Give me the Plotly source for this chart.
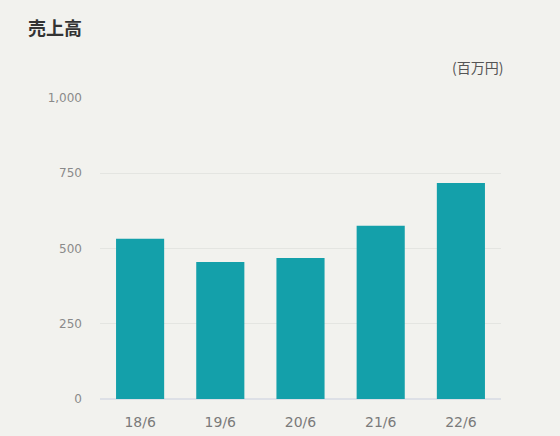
import plotly.graph_objects as go

# Net sales by fiscal year (millions of yen)
periods = ["18/6", "19/6", "20/6", "21/6", "22/6"]
sales = [532, 455, 468, 575, 717]
y_ticks = [0, 250, 500, 750, 1000]
y_tick_text = ["0", "250", "500", "750", "1,000"]

bg = "#f2f2ee"
bar_color = "#14a0aa"

# plot area in page pixels
W, H = 560, 436
L, R, T, B = 100, 59, 97, 37
pw, ph = W - L - R, H - T - B


def px_x(x):
    return (x - L) / pw


def px_y(y):
    return (H - B - y) / ph


fig = go.Figure(
    go.Bar(
        x=periods,
        y=sales,
        marker=dict(color=bar_color, line=dict(width=0)),
        hoverinfo="x+y",
    )
)

fig.update_layout(
    width=W,
    height=H,
    paper_bgcolor=bg,
    plot_bgcolor=bg,
    margin=dict(l=L, r=R, t=T, b=B, autoexpand=False),
    bargap=0.4,
    showlegend=False,
    xaxis=dict(
        automargin=False,
        showgrid=False,
        showline=False,
        zeroline=False,
        ticks="",
        tickfont=dict(size=14, color="#7a7a7a", family="DejaVu Sans"),
        ticklabelstandoff=13,
    ),
    yaxis=dict(
        automargin=False,
        range=[0, 1003],
        tickvals=y_ticks,
        ticktext=y_tick_text,
        showgrid=True,
        gridcolor="#e4e5e1",
        gridwidth=1,
        zeroline=True,
        zerolinecolor="#dde0e6",
        zerolinewidth=1.5,
        showline=False,
        ticks="",
        tickfont=dict(size=12, color="#8a8a8a", family="DejaVu Sans"),
        ticklabelstandoff=17,
    ),
    annotations=[
        dict(
            text="<b>売上高</b>",
            x=px_x(26), y=px_y(27),
            xref="paper", yref="paper",
            xanchor="left", yanchor="middle",
            showarrow=False,
            font=dict(size=18, color="#333333", family="Noto Sans CJK JP"),
        ),
        dict(
            text="(百万円)",
            x=px_x(505), y=px_y(67),
            xref="paper", yref="paper",
            xanchor="right", yanchor="middle",
            showarrow=False,
            font=dict(size=14, color="#555555", family="Noto Sans CJK JP"),
        ),
    ],
)

fig.write_html("out.html")
